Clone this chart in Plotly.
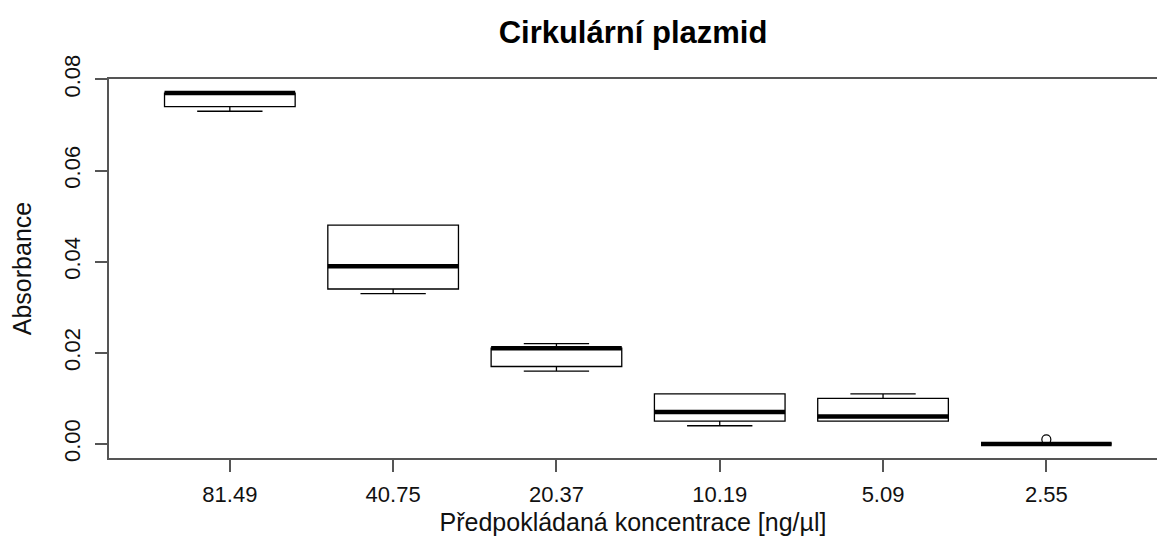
import plotly.graph_objects as go

# ---- data ----
categories = ["81.49", "40.75", "20.37", "10.19", "5.09", "2.55"]
lower_whisker = [0.073, 0.033, 0.016, 0.004, 0.005, 0.000]
q1_values     = [0.074, 0.034, 0.017, 0.005, 0.005, 0.000]
medians       = [0.077, 0.039, 0.021, 0.007, 0.006, 0.000]
q3_values     = [0.077, 0.048, 0.021, 0.011, 0.010, 0.000]
upper_whisker = [0.077, 0.048, 0.022, 0.011, 0.011, 0.000]
outlier_cat   = ["2.55"]
outlier_vals  = [0.001]

title_text = "Cirkulární plazmid"
x_title = "Předpokládaná koncentrace [ng/µl]"
y_title = "Absorbance"
y_ticks = [0.00, 0.02, 0.04, 0.06, 0.08]

# ---- figure ----
pos = [i + 1 for i in range(len(categories))]
half_w = 0.4
FONT = "Liberation Sans, Arial, sans-serif"

fig = go.Figure()
fig.add_trace(go.Box(
    x=pos, q1=q1_values, median=medians, q3=q3_values,
    lowerfence=lower_whisker, upperfence=upper_whisker,
    width=2 * half_w, whiskerwidth=0.5,
    fillcolor="white", line=dict(color="black", width=1.3),
    boxpoints=False, showlegend=False, hoverinfo="skip",
))

# thick median lines
mx, my = [], []
for p, m in zip(pos, medians):
    mx += [p - half_w, p + half_w, None]
    my += [m, m, None]
fig.add_trace(go.Scatter(x=mx, y=my, mode="lines",
                         line=dict(color="black", width=4.5),
                         showlegend=False, hoverinfo="skip"))

# outliers
opos = [pos[categories.index(c)] for c in outlier_cat]
fig.add_trace(go.Scatter(x=opos, y=outlier_vals, mode="markers",
                         marker=dict(symbol="circle-open", size=9,
                                     color="black", line=dict(width=1.2)),
                         showlegend=False, hoverinfo="skip"))

W, H = 1157, 559
L, T, B = 109, 79, 101
px_per_unit = 163.3
x_lo = 0.26
x_hi = x_lo + (W - L) / px_per_unit

fig.update_layout(
    width=W, height=H,
    margin=dict(l=L, r=0, t=T, b=B),
    paper_bgcolor="white", plot_bgcolor="white",
    font=dict(family=FONT, color="#111"),
    title=dict(text="<b>" + title_text + "</b>", x=0.5, xref="paper",
               xanchor="center", y=1 - 32 / H, yanchor="middle",
               font=dict(size=31, color="#000")),
)
fig.update_xaxes(
    range=[x_lo, x_hi], tickvals=pos, ticktext=categories,
    showgrid=False, zeroline=False,
    showline=True, linecolor="#555", linewidth=1.5, mirror=True,
    ticks="outside", ticklen=12, tickcolor="#555", tickwidth=1.5,
    tickfont=dict(size=22, color="#111"), ticklabelstandoff=4,
    title=dict(text=x_title, font=dict(size=25, color="#111"), standoff=7),
)
fig.update_yaxes(
    range=[-0.00308, 0.08008], tickvals=y_ticks,
    ticktext=[f"{v:.2f}" for v in y_ticks], tickangle=-90,
    showgrid=False, zeroline=False,
    showline=True, linecolor="#555", linewidth=1.5, mirror=False,
    ticks="outside", ticklen=12, tickcolor="#555", tickwidth=1.5,
    tickfont=dict(size=22, color="#111"), ticklabelstandoff=6,
    title=dict(text=y_title, font=dict(size=25, color="#111"), standoff=22),
)

fig.write_html("out.html")
